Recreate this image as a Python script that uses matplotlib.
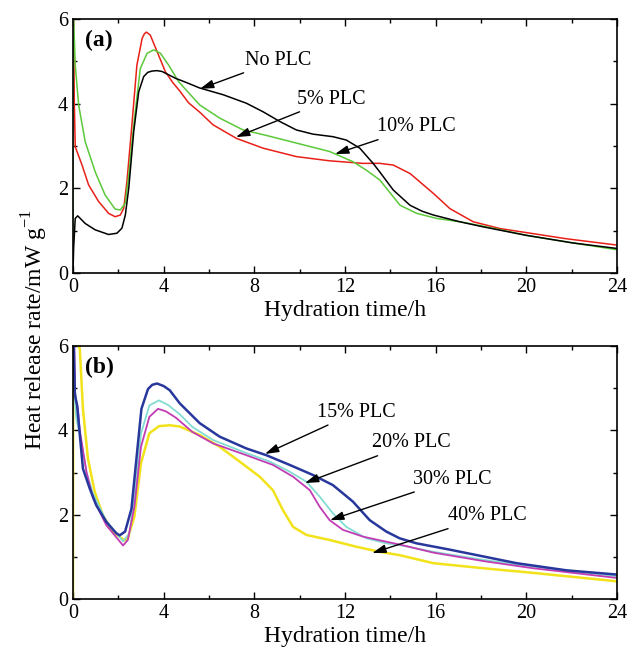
import matplotlib
matplotlib.use("Agg")
import matplotlib.pyplot as plt

plt.rcParams['font.family'] = ['Liberation Serif', 'DejaVu Serif']
plt.rcParams['mathtext.fontset'] = 'custom'
plt.rcParams['mathtext.rm'] = 'Liberation Serif'

# ---- panel (a) data (hydration time h, heat release rate mW/g) ----
noplc_t = [0.0, 0.03, 0.1, 0.21, 0.54, 0.98, 1.57, 1.94, 2.16, 2.31, 2.46, 2.68, 2.9, 3.12, 3.3,
           3.49, 3.7, 3.93, 4.52, 5.0, 5.59, 6.63, 7.65, 8.38, 9.12, 9.85, 10.59, 11.47, 12.06,
           12.65, 13.24, 13.53, 14.13, 14.87, 15.4, 15.9, 17.07, 18.1, 20.0, 22.06, 24.0]
noplc_v = [0.0, 0.6, 1.29, 1.35, 1.17, 1.02, 0.91, 0.94, 1.06, 1.37, 2.0, 3.34, 4.28, 4.64, 4.74,
           4.77, 4.78, 4.76, 4.6, 4.5, 4.37, 4.21, 4.01, 3.81, 3.58, 3.38, 3.28, 3.22, 3.14,
           2.95, 2.59, 2.39, 1.96, 1.6, 1.46, 1.37, 1.21, 1.09, 0.89, 0.71, 0.58]

plc5_t = [0.02, 0.06, 0.1, 0.4, 0.69, 1.13, 1.57, 1.86, 2.09, 2.24, 2.38, 2.6, 2.82, 3.05, 3.15,
          3.24, 3.41, 3.71, 4.08, 4.4, 4.71, 5.1, 5.59, 6.18, 7.21, 8.38, 9.85, 11.32, 12.79,
          13.53, 14.13, 14.87, 15.9, 16.63, 17.66, 18.84, 20.3, 21.76, 24.0]
plc5_v = [6.2, 4.0, 2.98, 2.55, 2.08, 1.69, 1.41, 1.33, 1.37, 1.53, 2.16, 3.5, 4.91, 5.54, 5.65,
          5.69, 5.62, 5.23, 4.75, 4.5, 4.3, 4.02, 3.8, 3.5, 3.18, 2.95, 2.75, 2.65, 2.59,
          2.59, 2.55, 2.35, 1.88, 1.52, 1.21, 1.05, 0.93, 0.81, 0.66]

plc10_t = [0.0, 0.01, 0.03, 0.1, 0.25, 0.54, 0.98, 1.42, 1.86, 2.09, 2.31, 2.46, 2.68, 2.97, 3.27,
           3.56, 3.86, 4.22, 4.66, 5.59, 6.47, 7.5, 8.53, 9.85, 11.32, 12.35, 12.94, 13.53,
           14.43, 15.16, 16.04, 17.07, 18.25, 20.0, 22.06, 24.0]
plc10_v = [0.0, 6.2, 6.0, 4.91, 3.97, 3.1, 2.39, 1.84, 1.51, 1.49, 1.65, 2.31, 3.5, 4.83, 5.19,
           5.27, 5.19, 4.91, 4.52, 3.97, 3.66, 3.38, 3.25, 3.07, 2.87, 2.63, 2.43, 2.2,
           1.6, 1.41, 1.29, 1.21, 1.09, 0.89, 0.71, 0.55]

# ---- panel (b) data ----
plc15_t = [0.03, 0.08, 0.12, 0.18, 0.44, 0.74, 1.03, 1.47, 1.91, 2.06, 2.3, 2.58, 2.8, 3.02, 3.31,
           3.5, 3.71, 4.0, 4.27, 4.71, 5.59, 6.47, 7.65, 8.53, 9.56, 10.59, 11.47, 12.35, 13.09,
           13.82, 14.41, 15.16, 16.63, 18.1, 19.57, 21.78, 24.0]
plc15_v = [6.2, 4.9, 4.75, 4.6, 3.09, 2.62, 2.22, 1.83, 1.56, 1.51, 1.6, 2.14, 3.33, 4.51, 4.98,
           5.08, 5.11, 5.05, 4.95, 4.64, 4.17, 3.85, 3.57, 3.41, 3.18, 2.94, 2.7, 2.31, 1.87,
           1.6, 1.44, 1.32, 1.17, 1.01, 0.85, 0.68, 0.58]

plc20_t = [0.03, 0.08, 0.15, 0.3, 0.6, 0.88, 1.47, 2.21, 2.49, 2.71, 3.0, 3.37, 3.79, 4.2, 4.71,
           5.27, 6.18, 7.65, 8.68, 9.56, 10.3, 10.88, 11.47, 12.06, 12.94, 13.82, 14.4, 15.9,
           18.1, 20.3, 24.0]
plc20_v = [6.2, 4.75, 4.28, 3.9, 3.0, 2.5, 1.85, 1.37, 1.56, 2.43, 3.92, 4.59, 4.71, 4.6, 4.38,
           4.08, 3.77, 3.46, 3.26, 3.02, 2.78, 2.43, 2.03, 1.71, 1.44, 1.32, 1.28, 1.12,
           0.93, 0.77, 0.54]

plc30_t = [0.05, 0.1, 0.22, 0.3, 0.6, 0.88, 1.47, 2.21, 2.42, 2.71, 3.0, 3.37, 3.75, 4.1, 4.54,
           5.27, 6.18, 7.65, 8.82, 9.71, 10.45, 10.88, 11.32, 11.91, 12.79, 13.82, 14.43, 15.9,
           18.1, 20.3, 24.0]
plc30_v = [6.2, 4.8, 4.51, 4.0, 3.0, 2.4, 1.75, 1.27, 1.4, 2.19, 3.61, 4.32, 4.51, 4.45, 4.3,
           3.96, 3.69, 3.41, 3.18, 2.9, 2.58, 2.19, 1.87, 1.64, 1.48, 1.36, 1.29, 1.1,
           0.9, 0.73, 0.5]

plc40_t = [0.0, 0.01, 0.3, 0.44, 0.66, 0.96, 1.32, 1.76, 2.12, 2.28, 2.42, 2.71, 3.0, 3.37, 3.8,
           4.27, 4.71, 5.59, 6.47, 7.35, 8.24, 8.82, 9.26, 9.71, 10.3, 11.32, 12.5, 13.53,
           14.41, 15.9, 18.1, 20.3, 24.0]
plc40_v = [0.0, 6.2, 5.94, 4.51, 3.33, 2.54, 1.99, 1.6, 1.45, 1.39, 1.44, 1.96, 3.22, 3.93, 4.1,
           4.12, 4.09, 3.89, 3.61, 3.26, 2.9, 2.58, 2.11, 1.71, 1.52, 1.4, 1.24, 1.12,
           1.04, 0.85, 0.73, 0.62, 0.42]

xticks = [0, 4, 8, 12, 16, 20, 24]
yticks = [0, 2, 4, 6]


def style_axes(ax):
    ax.set_xlim(0, 24)
    ax.set_ylim(0, 6)
    ax.set_xticks(xticks)
    ax.set_yticks(yticks)
    ax.set_xticks(range(2, 24, 4), minor=True)
    ax.set_yticks([1, 3, 5], minor=True)
    ax.tick_params(which='both', direction='in', top=True, right=True, labelsize=14.5, width=1)
    ax.tick_params(which='major', length=5)
    ax.tick_params(which='minor', length=3)
    for s in ax.spines.values():
        s.set_linewidth(1.2)
    ax.set_xlabel('Hydration time/h', fontsize=17, labelpad=2)


def note(ax, text, xy, xytext):
    ax.annotate(text, xy=xy, xytext=xytext, fontsize=14.5, ha='left', va='center',
                arrowprops=dict(arrowstyle='-|>,head_length=0.55,head_width=0.17', color='k',
                                lw=1, mutation_scale=15, shrinkA=1, shrinkB=0))


fig = plt.figure(figsize=(6.28, 6.59), dpi=100)
ax1 = fig.add_axes([0.1162, 0.5857, 0.8663, 0.3855])
ax2 = fig.add_axes([0.1162, 0.0910, 0.8663, 0.3840])

ax1.plot(plc5_t, plc5_v, color='#e82018', lw=1.1)
ax1.plot(plc10_t, plc10_v, color='#5cc83a', lw=1.1)
ax1.plot(noplc_t, noplc_v, color='k', lw=1.1)
style_axes(ax1)
ax1.text(0.022, 0.915, '(a)', transform=ax1.transAxes, fontsize=17, fontweight='bold',
         va='center', ha='left')
note(ax1, 'No PLC', (5.6, 4.35), (7.6, 5.03))
note(ax1, '5% PLC', (7.19, 3.21), (9.9, 4.11))
note(ax1, '10% PLC', (11.56, 2.81), (13.4, 3.45))

ax2.plot(plc40_t, plc40_v, color='#f2e21a', lw=1.8)
ax2.plot(plc20_t, plc20_v, color='#82dcd2', lw=1.3)
ax2.plot(plc30_t, plc30_v, color='#c23cb4', lw=1.3)
ax2.plot(plc15_t, plc15_v, color='#27379c', lw=1.8)
style_axes(ax2)
ax2.text(0.022, 0.915, '(b)', transform=ax2.transAxes, fontsize=17, fontweight='bold',
         va='center', ha='left')
note(ax2, '15% PLC', (8.47, 3.44), (10.75, 4.43))
note(ax2, '20% PLC', (10.23, 2.75), (13.2, 3.70))
note(ax2, '30% PLC', (11.34, 1.87), (15.0, 2.84))
note(ax2, '40% PLC', (13.2, 1.09), (16.55, 1.97))

fig.text(0.055, 0.50, 'Heat release rate/mW g$^{-1}$', rotation=90, fontsize=17,
         ha='center', va='center')

fig.savefig('out.png', dpi=100)
